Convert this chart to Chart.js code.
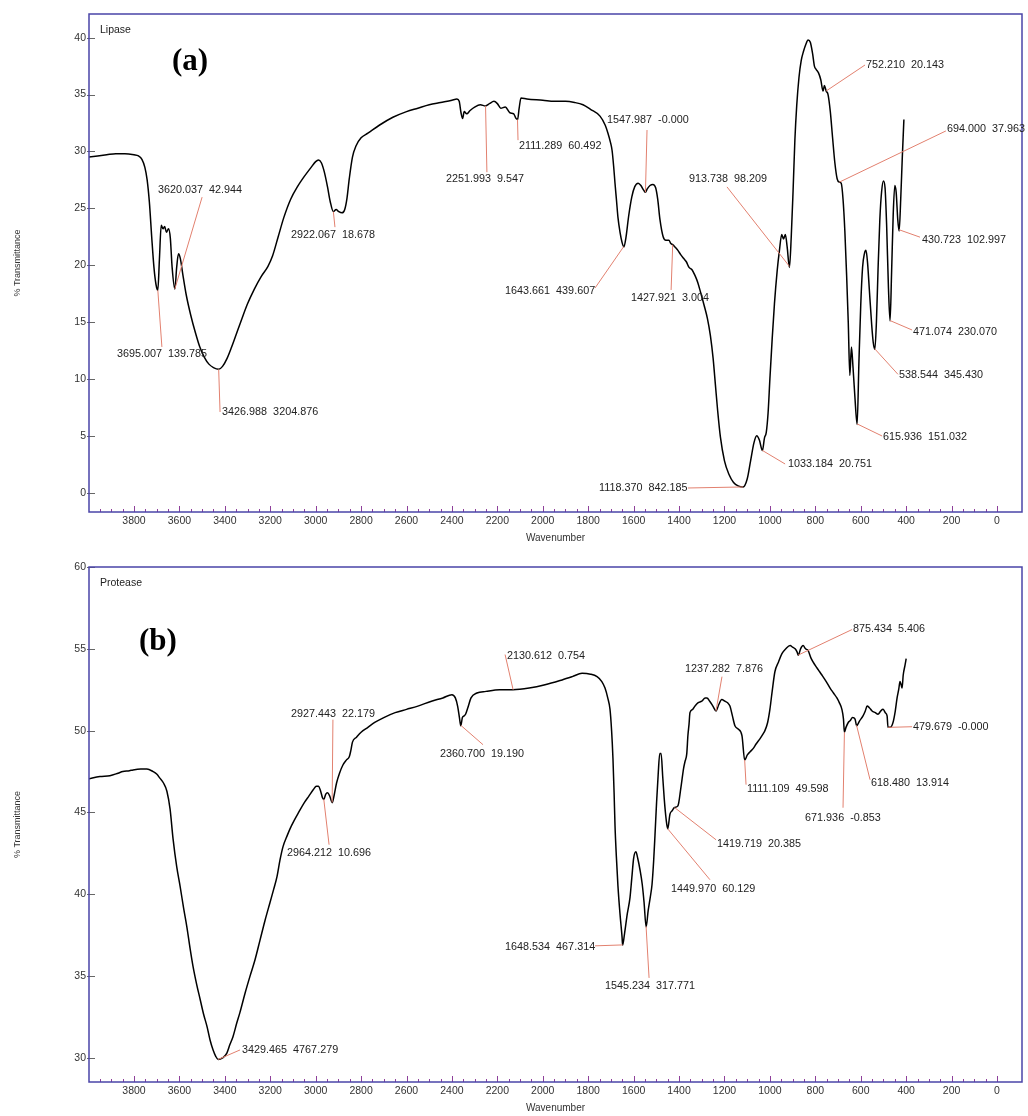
<!DOCTYPE html>
<html>
<head>
<meta charset="utf-8">
<script src="https://cdn.jsdelivr.net/npm/chart.js@4.4.1/dist/chart.umd.min.js"></script>
<style>
  body { margin: 0; background: #fff; }
  canvas { position: absolute; left: 0; }
  #lipaseChart { top: 0; }
  #proteaseChart { top: 555px; }
</style>
</head>
<body>
<canvas id="lipaseChart" width="1028" height="550"></canvas>
<canvas id="proteaseChart" width="1028" height="561"></canvas>
<script>
const xTicks = [3800, 3600, 3400, 3200, 3000, 2800, 2600, 2400, 2200, 2000, 1800, 1600, 1400, 1200, 1000, 800, 600, 400, 200, 0];
const lipaseYTicks = [0, 5, 10, 15, 20, 25, 30, 35, 40];
const proteaseYTicks = [30, 35, 40, 45, 50, 55, 60];

// Lipase spectrum (wavenumber, %T)
const lipaseWn = [4000, 3960, 3920, 3880, 3840, 3800, 3780, 3765, 3752, 3742, 3732, 3722, 3712, 3703, 3695,
  3688, 3680, 3672, 3665, 3657, 3648, 3640, 3632, 3620, 3612, 3604, 3596, 3585, 3570, 3550, 3530, 3510,
  3490, 3470, 3450, 3427, 3410, 3390, 3370, 3350, 3330, 3300, 3270, 3240, 3210, 3190, 3165, 3140, 3110,
  3080, 3050, 3020, 3000, 2988, 2975, 2962, 2948, 2936, 2922, 2910, 2898, 2884, 2872, 2862, 2852, 2838,
  2822, 2800, 2770, 2720, 2660, 2600, 2550, 2500, 2450, 2400, 2378, 2368, 2360, 2353, 2346, 2335, 2320,
  2300, 2275, 2252, 2235, 2215, 2200, 2185, 2165, 2145, 2128, 2118, 2111, 2104, 2096, 2070, 2000, 1950,
  1900, 1860, 1823, 1790, 1748, 1725, 1713, 1702, 1695, 1688, 1682, 1675, 1669, 1660, 1651, 1643, 1634,
  1622, 1608, 1595, 1580, 1568, 1556, 1548, 1540, 1528, 1515, 1503, 1494, 1484, 1470, 1458, 1445, 1436,
  1428, 1418, 1405, 1392, 1380, 1368, 1356, 1343, 1330, 1318, 1305, 1290, 1275, 1262, 1250, 1240, 1230,
  1218, 1200, 1180, 1160, 1140, 1118, 1100, 1085, 1070, 1058, 1046, 1033, 1024, 1016, 1008, 1000, 990,
  980, 968, 958, 948, 940, 932, 924, 914, 906, 898, 890, 882, 872, 862, 852, 842, 832, 822, 812, 804,
  796, 786, 776, 766, 760, 752, 744, 734, 724, 714, 704, 694, 686, 678, 670, 662, 655, 648, 641, 634,
  626, 616, 608, 600, 592, 584, 577, 570, 562, 552, 545, 538, 531, 524, 516, 508, 500, 493, 486, 478,
  471, 464, 457, 450, 444, 437, 431, 424, 417, 410];
const lipaseT = [29.5, 29.6, 29.7, 29.8, 29.8, 29.7, 29.6, 29.3, 28.6, 27.5, 25.5, 22.5, 19.8, 18.3, 17.8,
  20.5, 23.5, 23.2, 23.4, 22.9, 23.2, 22.4, 19.8, 17.9, 19.8, 21.0, 20.6, 19.2, 17.4, 15.6, 14.1, 12.8,
  11.9, 11.3, 11.0, 10.85, 11.1, 11.8, 12.8, 13.9, 15.0, 16.6, 17.9, 19.0, 19.9, 20.8, 22.5, 24.2, 25.8,
  26.9, 27.8, 28.6, 29.1, 29.25, 29.0, 28.2, 26.9, 25.6, 24.7, 24.9, 24.7, 24.6, 24.9, 25.9, 27.6, 29.5,
  30.5, 31.2, 31.6, 32.3, 33.0, 33.5, 33.8, 34.1, 34.3, 34.5, 34.6, 34.4, 33.4, 32.9, 33.5, 33.3, 33.6,
  33.9, 34.1, 34.0, 34.2, 34.4, 34.2, 33.8, 33.9, 33.4, 33.3, 32.9, 32.8, 33.8, 34.7, 34.6, 34.5, 34.4,
  34.4, 34.3, 34.1, 33.7, 33.1, 32.3, 31.6, 30.8, 30.1, 28.7, 27.2, 25.6, 24.2, 22.9, 22.0, 21.6, 22.4,
  24.3, 26.0, 26.9, 27.2, 27.0, 26.6, 26.4, 26.7, 27.0, 27.1, 26.8, 25.8, 24.0, 22.5, 22.2, 22.2, 21.9,
  21.8, 21.6, 21.3, 20.9, 20.6, 20.3, 19.8, 19.6, 19.1, 18.5, 17.6, 16.5, 15.3, 13.8, 11.8, 9.5, 7.2,
  4.9, 2.8, 1.6, 0.9, 0.6, 0.5, 1.2, 2.8, 4.4, 5.0, 4.6, 3.7, 4.8, 5.3, 7.0, 10.0, 13.5,
  16.6, 19.5, 21.3, 22.7, 22.3, 22.7, 21.6, 19.8, 22.5, 26.5, 31.0, 34.0, 36.5, 38.0, 38.8, 39.4, 39.8, 39.6, 38.6, 37.5,
  37.2, 36.9, 36.3, 35.3, 35.8, 35.3, 35.0, 33.5, 31.2, 29.0, 27.6, 27.3, 27.2, 25.8, 23.0, 19.0, 15.0, 10.3, 12.8, 11.0,
  8.5, 6.0, 11.5, 16.5, 19.8, 21.0, 21.3, 20.2, 17.8, 14.8, 13.2, 12.6, 15.0, 19.5, 24.0, 26.5, 27.4, 26.8, 23.5, 18.0,
  15.1, 19.5, 24.5, 27.0, 26.4, 24.0, 23.0, 25.8, 29.5, 32.8];

// Protease spectrum (wavenumber, %T)
const proteaseWn = [4000, 3950, 3906, 3870, 3849, 3820, 3804, 3770, 3743, 3716, 3700, 3686, 3670, 3655,
  3641, 3628, 3612, 3597, 3582, 3567, 3553, 3540, 3524, 3509, 3494, 3478, 3465, 3452, 3440, 3429, 3410,
  3391, 3378, 3364, 3348, 3333, 3310, 3289, 3267, 3245, 3223, 3201, 3185, 3170, 3157, 3144, 3125, 3113,
  3095, 3075, 3050, 3030, 3010, 2997, 2988, 2978, 2970, 2964, 2956, 2948, 2938, 2927, 2918, 2908, 2895,
  2880, 2865, 2852, 2845, 2838, 2820, 2800, 2770, 2740, 2700, 2650, 2600, 2550, 2490, 2440, 2400, 2385,
  2375, 2367, 2361, 2354, 2347, 2340, 2330, 2316, 2290, 2250, 2190, 2131, 2060, 1990, 1915, 1870, 1827,
  1790, 1761, 1740, 1726, 1714, 1704, 1697, 1691, 1686, 1682, 1676, 1669, 1660, 1651, 1648.5, 1640, 1628,
  1616, 1608, 1600, 1590, 1582, 1572, 1562, 1554, 1545, 1536, 1527, 1519, 1512, 1506, 1499, 1492, 1485,
  1479, 1472, 1465, 1457, 1450, 1440, 1431, 1420, 1405, 1392, 1380, 1374, 1366, 1361, 1356, 1352, 1340,
  1330, 1317, 1300, 1285, 1277, 1265, 1251, 1237, 1225, 1212, 1198, 1186, 1176, 1165, 1154, 1140, 1123,
  1111, 1100, 1088, 1074, 1060, 1044, 1030, 1022, 1010, 1000, 990, 978, 962, 947, 930, 911, 900, 889,
  880, 875, 865, 854, 843, 832, 818, 801, 786, 771, 752, 735, 720, 705, 694, 683, 676, 672, 665, 655,
  647, 636, 625, 618, 605, 590, 580, 572, 562, 550, 536, 524, 512, 502, 492, 484, 480, 470, 458, 448,
  440, 433, 427, 422, 418, 413, 405, 400];
const proteaseT = [47.05, 47.2, 47.25, 47.4, 47.5, 47.55, 47.6, 47.65, 47.65, 47.5, 47.35, 47.1, 46.8, 46.3,
  45.2, 43.4, 41.7, 40.5, 39.2, 38.0, 36.7, 35.6, 34.5, 33.6, 32.7, 31.9, 31.1, 30.5, 30.1, 29.9, 30.0,
  30.3, 30.8, 31.3, 32.1, 32.8, 34.0, 35.0, 36.0, 37.2, 38.4, 39.5, 40.3, 41.1, 42.1, 42.9, 43.6, 44.0,
  44.5, 45.0, 45.6, 46.0, 46.4, 46.6, 46.6, 46.3, 45.9, 45.8, 46.1, 46.2, 46.0, 45.6, 46.1, 46.8, 47.4,
  47.9, 48.2, 48.4, 48.8, 49.3, 49.6, 49.9, 50.2, 50.5, 50.8, 51.1, 51.3, 51.5, 51.8, 52.0, 52.2, 52.0,
  51.5, 50.8, 50.3, 50.8, 50.9, 51.0, 51.4, 52.0, 52.3, 52.4, 52.5, 52.5, 52.6, 52.8, 53.1, 53.3, 53.5,
  53.45, 53.3, 53.0, 52.6, 52.0, 51.3, 50.0, 48.3, 46.2, 44.2, 42.3, 40.5, 38.8, 37.4, 36.9, 37.6, 38.8,
  39.8, 41.0, 42.2, 42.6, 42.2, 41.5, 40.6, 39.5, 38.0, 39.0, 39.8, 40.6, 42.0, 43.6, 45.6, 47.3, 48.6,
  48.6, 47.2, 45.8, 44.6, 44.0, 44.9, 45.1, 45.3, 45.4, 46.5, 47.7, 48.1, 48.6, 49.7, 50.4, 51.1, 51.3,
  51.5, 51.7, 51.8, 52.0, 52.0, 51.8, 51.5, 51.2, 51.6, 51.9, 51.8, 51.7, 51.5, 50.9, 50.3, 50.1, 49.7,
  48.2, 48.5, 48.7, 48.9, 49.2, 49.5, 49.8, 50.0, 50.5, 51.3, 52.4, 53.6, 54.2, 54.7, 55.0, 55.2, 55.1, 55.0,
  54.8, 54.6, 55.0, 55.2, 55.0, 54.9, 54.4, 54.0, 53.7, 53.4, 53.0, 52.6, 52.3, 52.0, 51.7, 51.3, 50.7, 49.9, 50.2, 50.5,
  50.6, 50.8, 50.7, 50.3, 50.6, 50.9, 51.2, 51.5, 51.4, 51.2, 51.1, 51.0, 51.2, 51.3, 51.1, 50.9, 50.2, 50.2, 50.5, 51.2,
  52.0, 52.5, 53.0, 52.8, 52.6, 53.4, 54.0, 54.4];

// Peak labels: text, end of the leader line and text anchor, both in (wavenumber, %T)
const lipasePeaks = [
  { text: '3695.007  139.785', end: [3677, 12.81], at: [3875, 12.19] },
  { text: '3620.037  42.944', end: [3500, 25.98], at: [3694, 26.59] },
  { text: '3426.988  3204.876', end: [3421, 7.09], at: [3412, 7.09] },
  { text: '2922.067  18.678', end: [2915, 23.34], at: [3109, 22.65] },
  { text: '2251.993  9.547', end: [2246, 28.17], at: [2426, 27.56] },
  { text: '2111.289  60.492', end: [2109, 30.99], at: [2105, 30.46] },
  { text: '1547.987  -0.000', end: [1541, 31.88], at: [1717, 32.76] },
  { text: '1643.661  439.607', end: [1770, 17.99], at: [2166, 17.73] },
  { text: '1427.921  3.004', end: [1435, 17.82], at: [1612, 17.12] },
  { text: '1118.370  842.185', end: [1361, 0.41], at: [1752, 0.41] },
  { text: '1033.184  20.751', end: [933, 2.52], at: [920, 2.52] },
  { text: '913.738  98.209', end: [1189, 26.88], at: [1356, 27.56] },
  { text: '752.210  20.143', end: [581, 37.6], at: [577, 37.6] },
  { text: '694.000  37.963', end: [225, 31.8], at: [220, 31.97] },
  { text: '430.723  102.997', end: [339, 22.46], at: [330, 22.2] },
  { text: '471.074  230.070', end: [374, 14.3], at: [370, 14.1] },
  { text: '538.544  345.430', end: [436, 10.4], at: [432, 10.35] },
  { text: '615.936  151.032', end: [506, 4.98], at: [502, 4.9] }
];
const proteasePeaks = [
  { text: '2927.443  22.179', end: [2924, 50.67], at: [3109, 51.04] },
  { text: '2964.212  10.696', end: [2941, 43.03], at: [3126, 42.54] },
  { text: '2360.700  19.190', end: [2263, 49.14], at: [2453, 48.59] },
  { text: '2130.612  0.754', end: [2166, 54.65], at: [2158, 54.53] },
  { text: '1237.282  7.876', end: [1211, 53.3], at: [1374, 53.79] },
  { text: '875.434  5.406', end: [638, 56.18], at: [634, 56.18] },
  { text: '1111.109  49.598', end: [1105, 46.7], at: [1101, 46.45] },
  { text: '671.936  -0.853', end: [678, 45.29], at: [845, 44.68] },
  { text: '618.480  13.914', end: [559, 47.0], at: [555, 46.82] },
  { text: '479.679  -0.000', end: [374, 50.24], at: [370, 50.24] },
  { text: '1419.719  20.385', end: [1237, 43.33], at: [1233, 43.09] },
  { text: '1449.970  60.129', end: [1264, 40.89], at: [1435, 40.34] },
  { text: '1648.534  467.314', end: [1770, 36.85], at: [2166, 36.79] },
  { text: '1545.234  317.771', end: [1532, 34.89], at: [1726, 34.4] },
  { text: '3429.465  4767.279', end: [3333, 30.49], at: [3324, 30.49] }
];

const FONT = '"Liberation Sans", Arial, sans-serif';

// %T on the trace at a given wavenumber (arrays run high -> low)
function valueAt(wn, t, w) {
  for (let i = 0; i < wn.length - 1; i++) {
    if (w <= wn[i] && w >= wn[i + 1]) {
      const f = (wn[i] - w) / (wn[i] - wn[i + 1]);
      return t[i] + f * (t[i + 1] - t[i]);
    }
  }
  return t[t.length - 1];
}

function makeDecor(wn, t, peaks, name, letter, letterDx, letterDy) {
  return {
    id: 'spectrumDecor',
    afterDatasetsDraw(chart) {
      const { ctx, chartArea: a, scales: { x, y } } = chart;
      ctx.save();

      // ticks along the wavenumber axis
      ctx.strokeStyle = '#8e3f9a';
      ctx.lineWidth = 1;
      for (let w = 0; w <= 3950; w += 50) {
        const px = Math.round(x.getPixelForValue(w)) + 0.5;
        const len = w % 200 === 0 ? 6 : 3;
        ctx.beginPath();
        ctx.moveTo(px, a.bottom);
        ctx.lineTo(px, a.bottom - len);
        ctx.stroke();
      }
      // ticks along the %T axis
      ctx.strokeStyle = '#666';
      y.ticks.forEach(tk => {
        const py = Math.round(y.getPixelForValue(tk.value)) + 0.5;
        ctx.beginPath();
        ctx.moveTo(a.left - 2, py);
        ctx.lineTo(a.left + 6, py);
        ctx.stroke();
      });

      // plot frame
      ctx.strokeStyle = '#4a44a8';
      ctx.lineWidth = 1.5;
      ctx.strokeRect(a.left, a.top, a.right - a.left, a.bottom - a.top);

      // leader lines from each peak to its label
      ctx.strokeStyle = '#e2806f';
      ctx.lineWidth = 1;
      peaks.forEach(p => {
        const pw = parseFloat(p.text);
        ctx.beginPath();
        ctx.moveTo(x.getPixelForValue(pw), y.getPixelForValue(valueAt(wn, t, pw)));
        ctx.lineTo(x.getPixelForValue(p.end[0]), y.getPixelForValue(p.end[1]));
        ctx.stroke();
      });

      ctx.fillStyle = '#222';
      ctx.textBaseline = 'middle';
      ctx.textAlign = 'left';
      ctx.font = '10.8px ' + FONT;
      peaks.forEach(p => {
        ctx.fillText(p.text, x.getPixelForValue(p.at[0]), y.getPixelForValue(p.at[1]));
      });

      ctx.font = '10.5px ' + FONT;
      ctx.fillText(name, a.left + 11, a.top + 16);
      ctx.fillStyle = '#000';
      ctx.font = 'bold 31px "Liberation Serif", "Times New Roman", serif';
      ctx.fillText(letter, a.left + letterDx, a.top + letterDy);
      ctx.restore();
    }
  };
}

function buildChart(id, wn, t, yTicks, yMin, yMax, padTop, axisH, titlePad, decor) {
  const tickFont = { family: FONT, size: 10.5 };
  return new Chart(document.getElementById(id), {
    type: 'line',
    data: {
      datasets: [{
        data: wn.map((w, i) => ({ x: w, y: t[i] })),
        borderColor: '#000',
        borderWidth: 1.5,
        pointRadius: 0,
        cubicInterpolationMode: 'monotone',
        fill: false
      }]
    },
    options: {
      responsive: false,
      animation: false,
      devicePixelRatio: 1,
      layout: { padding: { top: padTop, right: 6, left: 0, bottom: 0 } },
      plugins: { legend: { display: false }, tooltip: { enabled: false } },
      scales: {
        x: {
          type: 'linear',
          reverse: true,
          min: -110,
          max: 3998,
          afterBuildTicks: s => { s.ticks = xTicks.map(v => ({ value: v })); },
          afterFit: s => { s.height = axisH; },
          grid: { display: false, drawTicks: false },
          border: { display: false },
          ticks: { padding: 3, font: tickFont, color: '#333', maxRotation: 0, autoSkip: false,
            callback: v => String(v) },
          title: { display: true, text: 'Wavenumber', color: '#333',
            font: { family: FONT, size: 10 }, padding: { top: 0, bottom: titlePad } }
        },
        y: {
          min: yMin,
          max: yMax,
          afterBuildTicks: s => { s.ticks = yTicks.map(v => ({ value: v })); },
          afterFit: s => { s.width = 89; },
          grid: { display: false, drawTicks: false },
          border: { display: false },
          ticks: { padding: 3, font: tickFont, color: '#333', callback: v => String(v) },
          title: { display: true, text: '% Transmittance', color: '#333',
            font: { family: FONT, size: 9 }, padding: { top: 12, bottom: 0 } }
        }
      }
    },
    plugins: [decor]
  });
}

buildChart('lipaseChart', lipaseWn, lipaseT, lipaseYTicks, -1.7, 42.08, 14, 38, 6,
  makeDecor(lipaseWn, lipaseT, lipasePeaks, 'Lipase', '(a)', 83, 48));
buildChart('proteaseChart', proteaseWn, proteaseT, proteaseYTicks, 28.53, 60, 12, 34, 2,
  makeDecor(proteaseWn, proteaseT, proteasePeaks, 'Protease', '(b)', 50, 75));
</script>
</body>
</html>
